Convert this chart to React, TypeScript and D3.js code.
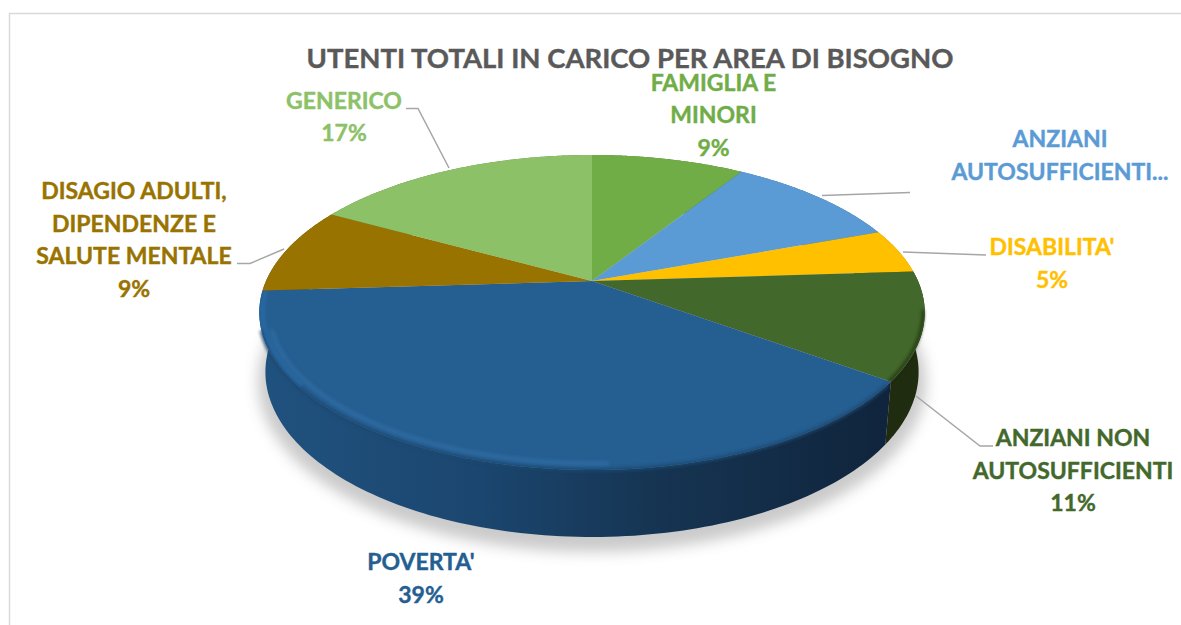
import React from 'react';
import * as d3 from 'd3';

const categories = ['FAMIGLIA E MINORI', 'ANZIANI AUTOSUFFICIENTI', "DISABILITA'", 'ANZIANI NON AUTOSUFFICIENTI', "POVERTA'", 'DISAGIO ADULTI, DIPENDENZE E SALUTE MENTALE', 'GENERICO'];
const values = [9, 10.4, 4.6, 11, 39, 9, 17];
const topColors = ['#70ad47', '#5b9bd5', '#ffc000', '#43682b', '#255e91', '#997300', '#8cc168'];
const sideColors = ['#4a7530', '#3c6a94', '#a67c00', '#1f2c10', '#1c466e', '#6b5000', '#5e8445'];
const labelLines = [
  ['FAMIGLIA E', 'MINORI', '9%'],
  ['ANZIANI', 'AUTOSUFFICIENTI...'],
  ["DISABILITA'", '5%'],
  ['ANZIANI NON', 'AUTOSUFFICIENTI', '11%'],
  ["POVERTA'", '39%'],
  ['DISAGIO ADULTI,', 'DIPENDENZE E', 'SALUTE MENTALE', '9%'],
  ['GENERICO', '17%'],
];
const labelX = [713.5, 1060, 1052, 1073, 421, 134, 344];
const labelY = [90.5, 147, 255, 446, 570, 199, 108.5];
const leaderPaths = [
  '',
  'M822,195.500L910,192.500',
  'M903,252L986,255',
  'M916,396L980,446L993,446',
  '',
  'M284,249L250,263.500L237,263.500',
  'M449,168L418,108.500L406,108.500',
];
const title = 'UTENTI TOTALI IN CARICO PER AREA DI BISOGNO';

const CX = 592;
const P = 0.2;
const project = (theta: number, r: number, a: number, b: number, y0: number): [number, number] => {
  const u = Math.sin(theta) * r;
  const v = -Math.cos(theta) * r;
  const d = 1 - P * v;
  return [CX + (a * u) / d, y0 + (b * v) / d];
};
const topPt = (t: number, r = 1) => project(t, r, 326, 151.2, 281);
const botPt = (t: number) => project(t, 1, 320, 158.4, 339);
const samples = (a0: number, a1: number) => d3.range(0, 121).map((i) => a0 + ((a1 - a0) * i) / 120);
const line = d3.line();

export default function App() {
  const arcs = d3.pie<number>().sort(null)(values);
  const font = 'Lato, Carlito, sans-serif';
  const poverty = arcs[4];
  const greenArc = arcs[3];
  return (
    <svg width={1181} height={625} style={{ position: 'absolute', left: 0, top: 0, display: 'block', background: '#fff' }}>
      <defs>
        <filter id="shadow" x="-10%" y="-10%" width="120%" height="120%"><feGaussianBlur stdDeviation="7" /></filter>
        <filter id="soft" x="-10%" y="-10%" width="120%" height="120%"><feGaussianBlur stdDeviation="2" /></filter>
        <filter id="edge" x="-10%" y="-10%" width="120%" height="120%"><feGaussianBlur stdDeviation="1.5" /></filter>
        <linearGradient id="sideBlue" gradientUnits="userSpaceOnUse" x1="259" x2="890" y1="0" y2="0">
          <stop offset="0" stopColor="#20527f" />
          <stop offset="0.35" stopColor="#1b466f" />
          <stop offset="0.62" stopColor="#163553" />
          <stop offset="1" stopColor="#10243c" />
        </linearGradient>
        <clipPath id="bluePath">
          <path d={(line([topPt(0, 0), ...samples(poverty.startAngle, poverty.endAngle).map((t) => topPt(t))]) || '') + 'Z'} />
        </clipPath>
      </defs>
      <path d="M9.500,625V13.500H1181" fill="none" stroke="#d9d9d9" strokeWidth={1.5} />
      <ellipse cx={592} cy={382} rx={334} ry={170} fill="#8a8a8a" opacity={0.45} filter="url(#shadow)" />
      {arcs.map((a, i) => {
        const pts = samples(a.startAngle, a.endAngle);
        const outer = pts.map((t) => topPt(t));
        const lower = pts.map((t) => botPt(t)).reverse();
        const fill = i === 4 ? 'url(#sideBlue)' : sideColors[i];
        return <path key={'s' + i} d={(line([...outer, ...lower]) || '') + 'Z'} fill={fill} />;
      })}
      {arcs.map((a, i) => {
        const pts = samples(a.startAngle, a.endAngle).map((t) => topPt(t));
        return <path key={'t' + i} d={(line([topPt(0, 0), ...pts]) || '') + 'Z'} fill={topColors[i]} />;
      })}
      <path d={line(samples(poverty.startAngle + 0.02, poverty.endAngle - 0.25).map((t) => topPt(t, 1.0))) || ''} fill="none" stroke="#1c466e" strokeWidth={4} filter="url(#edge)" opacity={0.8} />
      <g clipPath="url(#bluePath)">
        <path d={line(samples(poverty.startAngle + 0.9, poverty.endAngle - 0.25).map((t) => topPt(t, 0.972))) || ''} fill="none" stroke="#4a8ccb" strokeWidth={2.500} filter="url(#soft)" opacity={0.5} />
        <path d={line(samples(poverty.endAngle - 0.6, poverty.endAngle).map((t) => topPt(t, 0.99))) || ''} fill="none" stroke="#2f75b5" strokeWidth={5} filter="url(#edge)" opacity={0.45} />
      </g>
      <path d={line(samples(greenArc.startAngle + 0.25, greenArc.endAngle).map((t) => topPt(t, 0.995))) || ''} fill="none" stroke="#1f2c10" strokeWidth={3} filter="url(#edge)" opacity={0.75} />
      {leaderPaths.map((d, i) => d ? <path key={'l' + i} d={d} fill="none" stroke="#a6a6a6" strokeWidth={1.500} /> : null)}
      <text x={630} y={68} textAnchor="middle" fontFamily={font} fontWeight={700} fontSize={27.5} fill="#595959" stroke="#595959" strokeWidth={0.4}>{title}</text>
      {labelLines.map((lines, i) => (
        <text key={'x' + i} textAnchor="middle" fontFamily={font} fontWeight={700} fontSize={23} fill={topColors[i]} stroke={topColors[i]} strokeWidth={0.4}>
          {lines.map((s, j) => <tspan key={j} x={labelX[i]} y={labelY[i] + j * 32.700}>{s}</tspan>)}
          <title>{categories[i]}</title>
        </text>
      ))}
    </svg>
  );
}
